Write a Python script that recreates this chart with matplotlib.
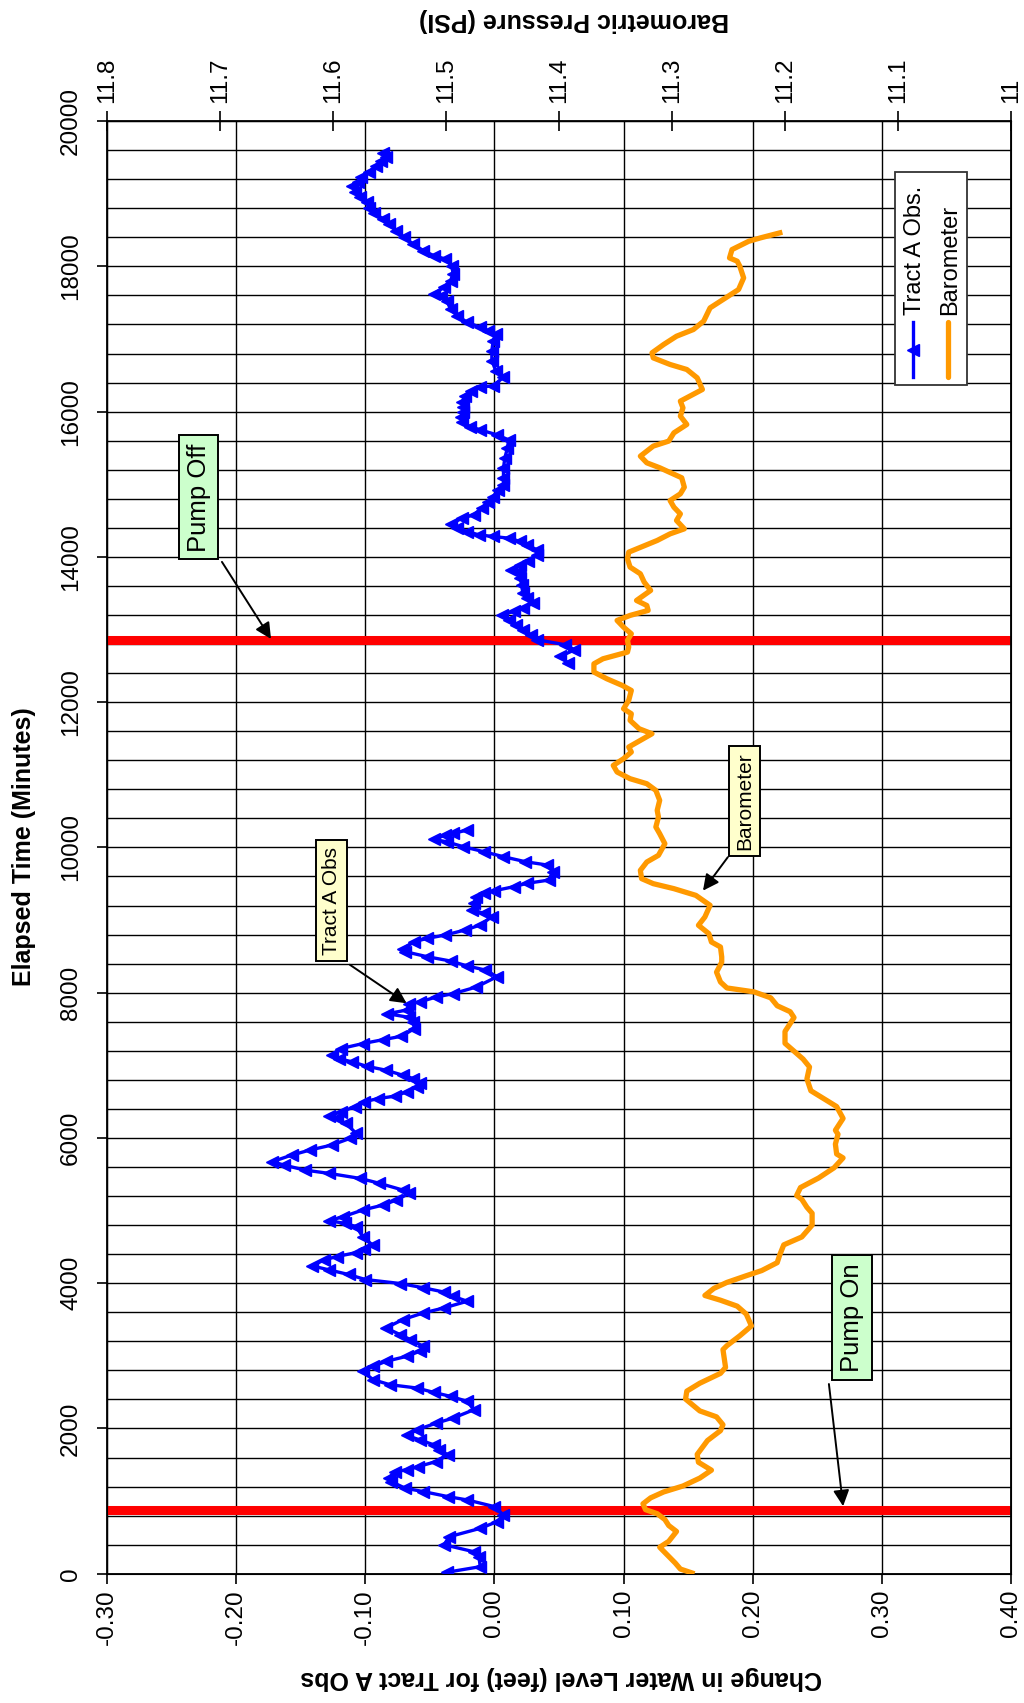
import numpy as np
import matplotlib
matplotlib.use("Agg")
import matplotlib.pyplot as plt
from matplotlib.ticker import MultipleLocator, FuncFormatter
from matplotlib.patches import Rectangle
from matplotlib.lines import Line2D

plt.rcParams['font.family'] = ['Liberation Sans', 'DejaVu Sans']

# ---- Tract A observation well: change in water level (feet) vs elapsed time (minutes)
obs_time_1 = [20, 97, 235, 303, 400, 510, 625, 717, 810, 924, 1016, 1062, 1131, 1177, 1269, 1315,
              1407, 1430, 1476, 1545, 1637, 1706, 1775, 1844, 1904, 1982, 2074, 2143, 2258, 2373,
              2442, 2497, 2557, 2603, 2672, 2786, 2855, 2924, 2993, 3062, 3131, 3223, 3292, 3384,
              3499, 3591, 3660, 3752, 3818, 3878, 3937, 3996, 4051, 4120, 4183, 4238, 4321, 4367,
              4422, 4470, 4520, 4641, 4779, 4825, 4860, 4917, 5008, 5077, 5146, 5237, 5283, 5375,
              5443, 5512, 5558, 5627, 5673, 5764, 5833, 5902, 5993, 6062, 6199, 6268, 6300, 6360,
              6429, 6497, 6543, 6575, 6635, 6704, 6750, 6818, 6864, 6933, 6987, 7047, 7090, 7139,
              7230, 7299, 7354, 7400, 7505, 7597, 7660, 7711, 7760, 7849, 7872, 7941, 7986, 8078,
              8220, 8312, 8367, 8436, 8495, 8564, 8600, 8702, 8748, 8794, 8862, 8931, 9046, 9092,
              9138, 9229, 9321, 9367, 9404, 9459, 9505, 9550, 9665, 9757, 9803, 9872, 9940, 10009,
              10078, 10110, 10170, 10193, 10239]
obs_level_1 = [-0.037, -0.011, -0.012, -0.016, -0.039, -0.035, -0.011, 0.002, 0.007, 0.000, -0.021,
               -0.036, -0.055, -0.069, -0.080, -0.082, -0.077, -0.068, -0.059, -0.045, -0.036, -0.043,
               -0.047, -0.058, -0.068, -0.060, -0.045, -0.032, -0.016, -0.021, -0.034, -0.047, -0.060,
               -0.081, -0.094, -0.102, -0.094, -0.084, -0.068, -0.058, -0.055, -0.065, -0.073, -0.084,
               -0.071, -0.055, -0.039, -0.021, -0.032, -0.039, -0.055, -0.073, -0.100, -0.113, -0.128,
               -0.141, -0.132, -0.122, -0.107, -0.101, -0.094, -0.102, -0.107, -0.116, -0.128, -0.117,
               -0.102, -0.086, -0.076, -0.066, -0.071, -0.089, -0.104, -0.128, -0.147, -0.163, -0.172,
               -0.157, -0.143, -0.126, -0.112, -0.107, -0.115, -0.122, -0.128, -0.119, -0.108, -0.101,
               -0.090, -0.077, -0.068, -0.060, -0.058, -0.063, -0.071, -0.084, -0.099, -0.110, -0.120,
               -0.126, -0.119, -0.102, -0.086, -0.072, -0.062, -0.063, -0.066, -0.083, -0.068, -0.066,
               -0.058, -0.045, -0.032, -0.014, 0.002, -0.007, -0.021, -0.034, -0.052, -0.069, -0.071,
               -0.062, -0.052, -0.038, -0.023, -0.011, -0.002, -0.008, -0.017, -0.016, -0.014, -0.008,
               0.000, 0.015, 0.025, 0.042, 0.045, 0.041, 0.024, 0.007, -0.008, -0.024, -0.037, -0.047,
               -0.038, -0.032, -0.021]

obs_time_2 = [12540, 12630, 12720, 12790, 12859, 12928, 12996, 13065, 13134, 13203, 13249, 13294,
              13363, 13432, 13501, 13616, 13707, 13799, 13822, 13891, 13937, 14028, 14097, 14166,
              14212, 14258, 14281, 14303, 14349, 14404, 14450, 14533, 14579, 14670, 14762, 14831,
              14923, 14991, 15083, 15221, 15358, 15496, 15611, 15680, 15749, 15795, 15863, 15932,
              16001, 16060, 16128, 16220, 16289, 16335, 16358, 16472, 16564, 16702, 16839, 16977,
              17069, 17115, 17161, 17229, 17321, 17413, 17528, 17596, 17619, 17711, 17803, 17894,
              18009, 18101, 18147, 18216, 18307, 18399, 18491, 18583, 18651, 18730, 18800, 18880,
              18950, 19030, 19100, 19160, 19230, 19300, 19380, 19450, 19510, 19560]
obs_level_2 = [0.057, 0.051, 0.062, 0.055, 0.033, 0.028, 0.022, 0.017, 0.011, 0.006, 0.015, 0.022,
               0.030, 0.025, 0.022, 0.021, 0.020, 0.019, 0.013, 0.020, 0.026, 0.033, 0.033, 0.025,
               0.020, 0.011, -0.001, -0.012, -0.021, -0.029, -0.034, -0.025, -0.016, -0.010, -0.005,
               -0.001, 0.003, 0.007, 0.007, 0.007, 0.008, 0.010, 0.011, 0.002, -0.011, -0.019, -0.025,
               -0.026, -0.024, -0.024, -0.025, -0.023, -0.018, -0.011, -0.001, 0.007, 0.001, -0.002,
               -0.002, -0.001, 0.001, -0.005, -0.011, -0.021, -0.029, -0.034, -0.037, -0.041, -0.047,
               -0.039, -0.034, -0.032, -0.033, -0.038, -0.047, -0.055, -0.063, -0.070, -0.076, -0.082,
               -0.086, -0.093, -0.097, -0.099, -0.104, -0.108, -0.110, -0.106, -0.103, -0.097, -0.092,
               -0.088, -0.084, -0.086]

# ---- Barometric pressure (PSI) vs elapsed time (minutes)
baro_time = [11, 65, 147, 256, 365, 446, 582, 664, 746, 827, 882, 963, 1045, 1126, 1208, 1317, 1426,
             1535, 1643, 1834, 1970, 2052, 2160, 2242, 2405, 2514, 2623, 2759, 2841, 3086, 3140, 3276,
             3412, 3575, 3684, 3766, 3831, 3929, 4011, 4103, 4174, 4283, 4392, 4528, 4637, 4800, 4963,
             5045, 5154, 5208, 5317, 5448, 5589, 5725, 5779, 5915, 6051, 6106, 6269, 6432, 6541, 6650,
             6813, 6977, 7086, 7194, 7303, 7466, 7657, 7738, 7820, 7929, 8011, 8065, 8147, 8283, 8419,
             8492, 8629, 8698, 8813, 8928, 9042, 9203, 9340, 9432, 9501, 9570, 9684, 9799, 9891, 10051,
             10189, 10281, 10418, 10510, 10648, 10785, 10877, 10946, 11038, 11129, 11221, 11313, 11382,
             11473, 11565, 11634, 11749, 11840, 11909, 12024, 12161, 12230, 12322, 12414, 12528, 12597,
             12689, 12758, 12850, 12941, 13033, 13125, 13194, 13263, 13331, 13400, 13538, 13652, 13767,
             13859, 13973, 14065, 14226, 14317, 14386, 14501, 14592, 14684, 14776, 14868, 14959, 15089,
             15227, 15295, 15387, 15525, 15594, 15708, 15823, 15938, 16052, 16144, 16305, 16465, 16580,
             16649, 16740, 16809, 16924, 17038, 17130, 17245, 17428, 17520, 17681, 17841, 18002, 18071,
             18116, 18231, 18346, 18392, 18461]
baro_psi = [11.2823, 11.2926, 11.2971, 11.3040, 11.3109, 11.3029, 11.2960, 11.3029, 11.3063, 11.3131,
            11.3234, 11.3257, 11.3189, 11.3074, 11.2903, 11.2754, 11.2651, 11.2766, 11.2777, 11.2686,
            11.2571, 11.2549, 11.2606, 11.2754, 11.2880, 11.2869, 11.2754, 11.2571, 11.2526, 11.2549,
            11.2514, 11.2400, 11.2297, 11.2343, 11.2423, 11.2571, 11.2709, 11.2629, 11.2514, 11.2343,
            11.2206, 11.2069, 11.2046, 11.2011, 11.1851, 11.1760, 11.1760, 11.1806, 11.1851, 11.1897,
            11.1863, 11.1703, 11.1566, 11.1486, 11.1543, 11.1554, 11.1531, 11.1554, 11.1486, 11.1543,
            11.1657, 11.1771, 11.1806, 11.1783, 11.1840, 11.1920, 11.2000, 11.2000, 11.1920, 11.1954,
            11.2069, 11.2126, 11.2274, 11.2514, 11.2571, 11.2606, 11.2560, 11.2560, 11.2571, 11.2651,
            11.2674, 11.2766, 11.2709, 11.2663, 11.2789, 11.2983, 11.3166, 11.3269, 11.3280, 11.3223,
            11.3120, 11.3063, 11.3109, 11.3143, 11.3120, 11.3131, 11.3109, 11.3143, 11.3223, 11.3371,
            11.3486, 11.3520, 11.3429, 11.3360, 11.3383, 11.3280, 11.3177, 11.3291, 11.3371, 11.3360,
            11.3429, 11.3383, 11.3360, 11.3440, 11.3577, 11.3691, 11.3691, 11.3611, 11.3394, 11.3383,
            11.3394, 11.3360, 11.3429, 11.3486, 11.3371, 11.3211, 11.3223, 11.3314, 11.3189, 11.3246,
            11.3280, 11.3371, 11.3394, 11.3383, 11.3131, 11.3017, 11.2891, 11.2960, 11.2926, 11.2983,
            11.3017, 11.2926, 11.2891, 11.2914, 11.3109, 11.3223, 11.3280, 11.3166, 11.3029, 11.2983,
            11.2869, 11.2926, 11.2903, 11.2926, 11.2731, 11.2777, 11.2869, 11.3017, 11.3166, 11.3177,
            11.3074, 11.2960, 11.2811, 11.2720, 11.2663, 11.2571, 11.2411, 11.2366, 11.2400, 11.2423,
            11.2491, 11.2469, 11.2320, 11.2217, 11.2046]

# Pump on / pump off times (minutes)
pump_events = [880, 12850]

level_ticks = [-0.30, -0.20, -0.10, 0.00, 0.10, 0.20, 0.30, 0.40]
psi_ticks = [11.8, 11.7, 11.6, 11.5, 11.4, 11.3, 11.2, 11.1, 11.0]
time_ticks = list(range(0, 20001, 2000))

BLUE = '#0000ff'
ORANGE = '#ff9900'
TICK_FS = 17.5
TITLE_FS = 18

fig = plt.figure(figsize=(10.24, 17.03), dpi=100)
ax = fig.add_axes([0.1045, 0.0759, 0.8828, 0.853])

ax.set_xlim(-0.30, 0.40)
ax.set_ylim(0, 20000)
ax.set_xticks(level_ticks)
ax.xaxis.set_major_formatter(FuncFormatter(lambda v, p: f"{v:.2f}"))
ax.set_yticks(time_ticks)
ax.yaxis.set_minor_locator(MultipleLocator(400))
ax.grid(which='both', axis='y', color='black', lw=1.0)
ax.grid(which='major', axis='x', color='black', lw=1.0)
ax.set_axisbelow(True)
ax.tick_params(axis='y', which='minor', length=0)
ax.tick_params(axis='both', which='major', direction='out', length=7, width=1.2,
               labelsize=TICK_FS, color='black')
ax.tick_params(axis='x', pad=4)
ax.tick_params(axis='y', pad=11)
for lab in ax.get_xticklabels():
    lab.set_rotation(90)
for lab in ax.get_yticklabels():
    lab.set_rotation(90)
    lab.set_va('center')
for sp in ax.spines.values():
    sp.set_color('black')
    sp.set_linewidth(1.3)

for t in pump_events:
    ax.axhline(t, color='red', lw=6.5, zorder=2)

ax.plot(obs_level_1, obs_time_1, color=BLUE, lw=2.4, marker='<', ms=8, mec=BLUE, mfc=BLUE, zorder=3)
ax.plot(obs_level_2, obs_time_2, color=BLUE, lw=2.4, marker='<', ms=8, mec=BLUE, mfc=BLUE, zorder=3)

ax2 = ax.twiny()
ax2.set_xlim(11.8, 11.0)
ax2.set_xticks(psi_ticks)
ax2.xaxis.set_major_formatter(FuncFormatter(lambda v, p: f"{v:g}"))
ax2.tick_params(axis='x', direction='inout', length=14, width=1.2, labelsize=TICK_FS, pad=6)
for lab in ax2.get_xticklabels():
    lab.set_rotation(90)
ax2.plot(baro_psi, baro_time, color=ORANGE, lw=3.8, solid_joinstyle='round', zorder=3)

# Callout boxes with arrows
def callout(text, center, start, tip, face, fs):
    ax.text(center[0], center[1], text, rotation=90, ha='center', va='center', fontsize=fs,
            zorder=6, bbox=dict(boxstyle='square,pad=0.3', fc=face, ec='black', lw=1.4))
    ax.annotate('', xy=tip, xytext=start, zorder=6,
                arrowprops=dict(arrowstyle='-|>', color='black', lw=1.4,
                                mutation_scale=24, shrinkA=0, shrinkB=0))

callout('Pump Off', (-0.229, 14819), (-0.211, 13931), (-0.173, 12870), '#ccffcc', 18.5)
callout('Pump On', (0.277, 3528), (0.259, 2612), (0.270, 930), '#ccffcc', 18.5)
callout('Tract A Obs', (-0.126, 9266), (-0.112, 8385), (-0.068, 7854), '#ffffcc', 15)
callout('Barometer', (0.1937, 10643), (0.1807, 9865), (0.1615, 9405), '#ffffcc', 15)

# Legend (rotated layout)
tr = ax.transAxes
ax.add_patch(Rectangle((0.8717, 0.8183), 0.0796, 0.1468, transform=tr, fc='white',
                       ec='#333333', lw=1.3, zorder=7))
ax.add_line(Line2D([0.8919, 0.8919], [0.8235, 0.8618], transform=tr, color=BLUE, lw=2.4, zorder=8))
ax.add_line(Line2D([0.8919], [0.8426], transform=tr, color=BLUE, marker='<', ms=8, zorder=8))
ax.add_line(Line2D([0.9300, 0.9300], [0.8235, 0.8618], transform=tr, color=ORANGE, lw=3.8,
                   solid_capstyle='round', zorder=8))
ax.text(0.8938, 0.8665, 'Tract A Obs.', transform=tr, rotation=90, ha='center', va='bottom',
        fontsize=17, zorder=8)
ax.text(0.9325, 0.8665, 'Barometer', transform=tr, rotation=90, ha='center', va='bottom',
        fontsize=17, zorder=8)

# Axis titles
fig.text(0.0234, 0.5026, 'Elapsed Time (Minutes)', rotation=90, ha='center', va='center',
         fontsize=TITLE_FS, fontweight='bold')
fig.text(0.548, 0.0147, 'Change in Water Level (feet) for Tract A Obs', rotation=180,
         ha='center', va='center', fontsize=TITLE_FS, fontweight='bold')
fig.text(0.5605, 0.9885, 'Barometric Pressure (PSI)', rotation=180, ha='center', va='center',
         fontsize=TITLE_FS, fontweight='bold')

fig.savefig('out.png', dpi=100)
